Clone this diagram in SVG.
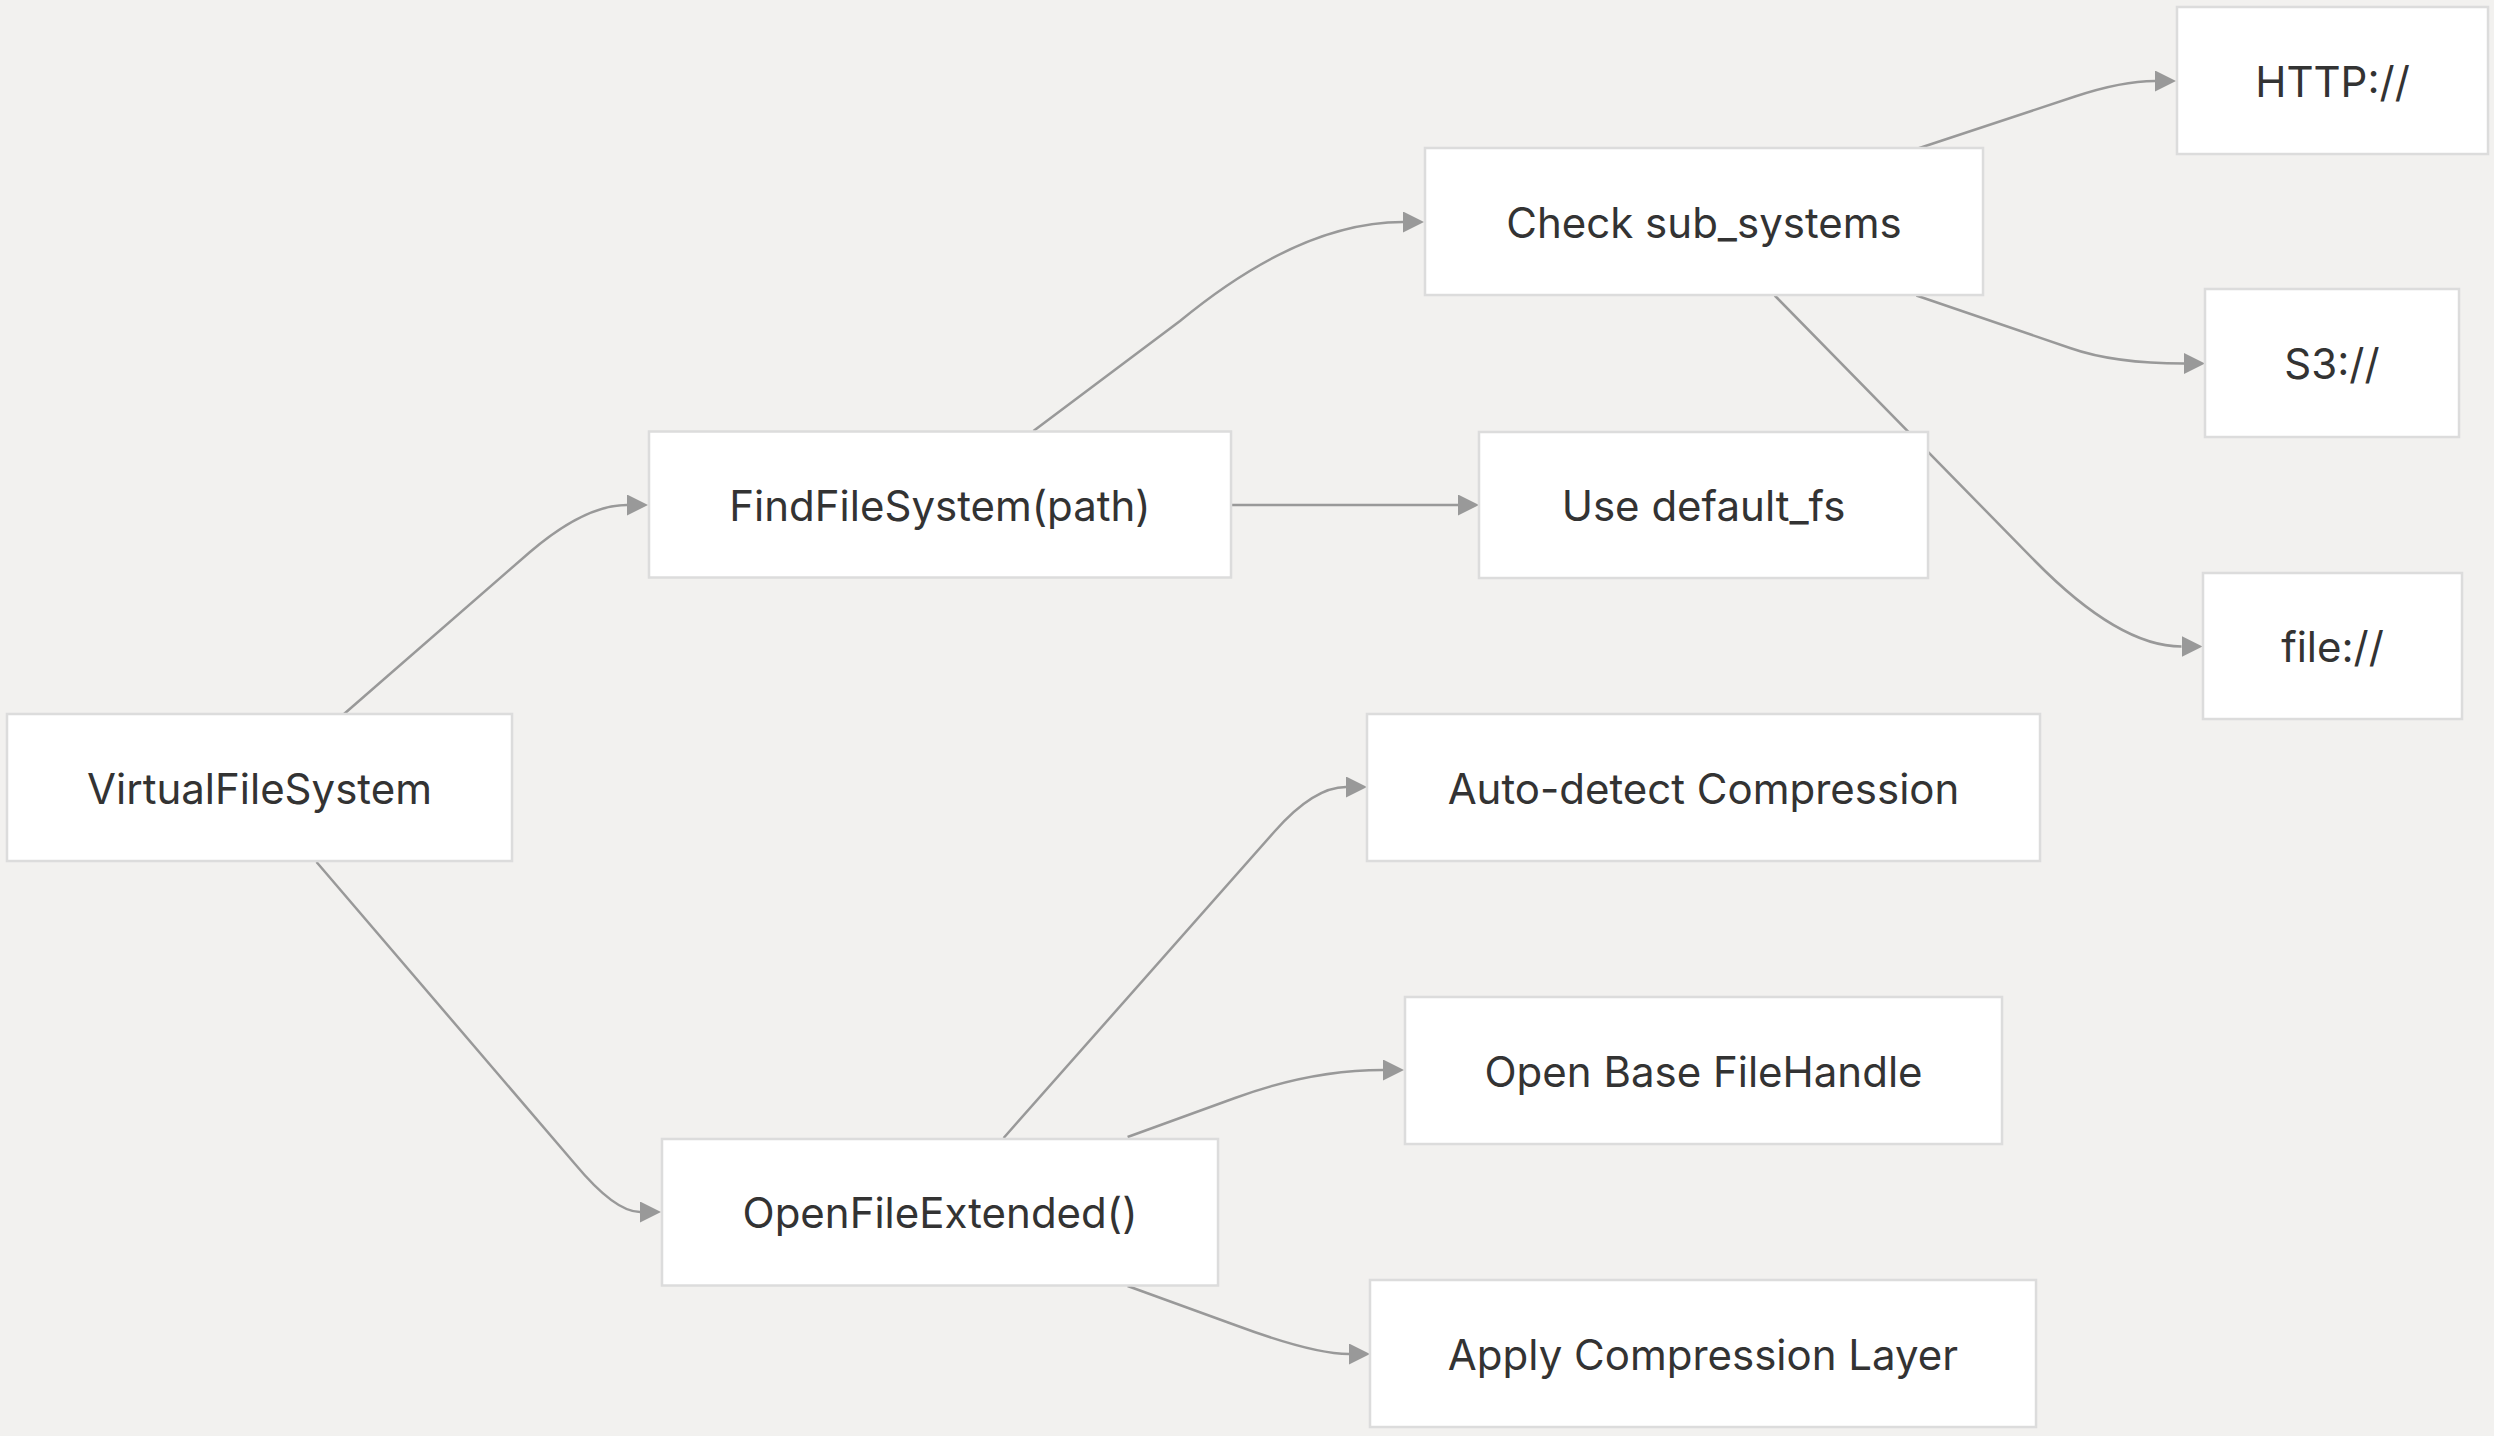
<svg xmlns="http://www.w3.org/2000/svg" width="2494" height="1436" viewBox="0 0 2494 1436">
<defs>
<style>
.node rect{fill:#ffffff;stroke:#dcdcdc;stroke-width:2.5}
.node text{font-family:Inter,"Noto Sans","Liberation Sans",sans-serif;font-size:42px;fill:#333333;text-anchor:middle}
.edge{fill:none;stroke:#999999;stroke-width:2.5;marker-end:url(#arrow)}
</style>
<marker id="arrow" markerUnits="userSpaceOnUse" markerWidth="22" markerHeight="22" refX="0" refY="10.5" orient="auto">
<path d="M0,0 L21,10.5 L0,21 Z" fill="#999999"/>
</marker>
</defs>
<rect x="0" y="0" width="2494" height="1436" fill="#f2f1ef"/>
<g id="connectors">
<path class="edge" d="M344,714 L530,552 Q585,505 627,505"/>
<path class="edge" d="M316.5,862 L575,1164 Q615,1212 640,1212"/>
<path class="edge" d="M1033.4,431 L1180,321 Q1300,222 1403,222"/>
<path class="edge" d="M1231,505 L1458,505"/>
<path class="edge" d="M1916.4,149 L2075,96.5 Q2122,81 2155,81"/>
<path class="edge" d="M1916.4,295.5 L2070,348 Q2114,363.5 2184,363.5"/>
<path class="edge" d="M1774.7,295.5 L2035,561 Q2119,646.5 2181.5,646.5"/>
<path class="edge" d="M1003.6,1138 L1275,831 Q1314,787 1346,787"/>
<path class="edge" d="M1127.6,1137 L1235,1098 Q1311,1070 1383,1070"/>
<path class="edge" d="M1127.6,1286 L1235,1325 Q1313,1354 1349,1354"/>
</g>
<g id="node-vfs" class="node"><rect x="7" y="714" width="505" height="147"/><text x="259.5" y="803.5">VirtualFileSystem</text></g>
<g id="node-findfs" class="node"><rect x="649" y="431.5" width="582" height="146"/><text x="940" y="520.5">FindFileSystem(path)</text></g>
<g id="node-openfileext" class="node"><rect x="662" y="1139" width="556" height="146.5"/><text x="940" y="1228">OpenFileExtended()</text></g>
<g id="node-check" class="node"><rect x="1425" y="148" width="558" height="147"/><text x="1704" y="237.5">Check sub_systems</text></g>
<g id="node-default" class="node"><rect x="1479" y="432" width="449" height="146"/><text x="1703.5" y="521">Use default_fs</text></g>
<g id="node-auto" class="node"><rect x="1367" y="714" width="673" height="147"/><text x="1703.5" y="803.5">Auto-detect Compression</text></g>
<g id="node-openbase" class="node"><rect x="1405" y="997" width="597" height="147"/><text x="1703.5" y="1086.5">Open Base FileHandle</text></g>
<g id="node-apply" class="node"><rect x="1370" y="1280" width="666" height="147"/><text x="1703" y="1369.5">Apply Compression Layer</text></g>
<g id="node-http" class="node"><rect x="2177" y="7" width="311" height="147"/><text x="2332.5" y="96.5">HTTP://</text></g>
<g id="node-s3" class="node"><rect x="2205" y="289" width="254" height="148"/><text x="2332" y="379">S3://</text></g>
<g id="node-file" class="node"><rect x="2203" y="573" width="259" height="146"/><text x="2332.5" y="662">file://</text></g>
</svg>
